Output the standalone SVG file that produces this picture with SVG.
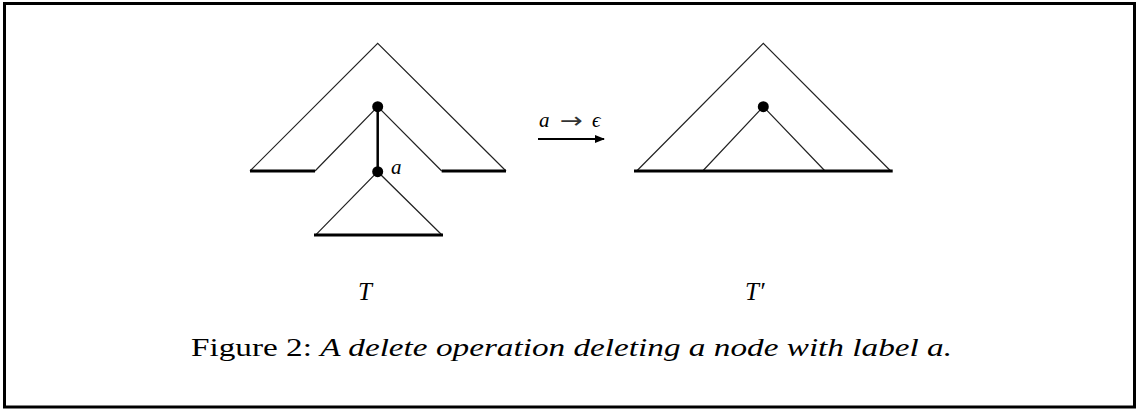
<svg xmlns="http://www.w3.org/2000/svg" width="1137" height="410" viewBox="0 0 1137 410">
<defs>
<style>
.thin{stroke:#222;stroke-width:1.2;fill:none}
.thick{stroke:#000;stroke-width:3;fill:none}
.dot{fill:#000}
.math{font-family:"Liberation Serif",serif;font-style:italic;fill:#000}
.cap{font-family:"Liberation Serif",serif;fill:#000;font-size:25px}
</style>
<marker id="ah" viewBox="0 0 10 10" refX="9" refY="5" markerWidth="5" markerHeight="5" orient="auto" markerUnits="strokeWidth">
<path d="M0,1 L10,5 L0,9 z" fill="#000"/>
</marker>
</defs>
<rect x="4.5" y="3.5" width="1130" height="403.5" fill="#fff" stroke="#000" stroke-width="3"/>
<g id="treeT">
<path class="thin" d="M250,171 L377.7,43.3 L506,171"/>
<path class="thin" d="M315,171 L377.7,106.7 L441.7,171"/>
<line class="thick" x1="250" y1="171" x2="315" y2="171"/>
<line class="thick" x1="441.7" y1="171" x2="506" y2="171"/>
<line x1="377.7" y1="106.7" x2="377.7" y2="171.7" stroke="#000" stroke-width="2.5"/>
<path class="thin" d="M316,234.7 L377.7,171.7 L441.7,234.7"/>
<line class="thick" x1="314" y1="235" x2="443" y2="235"/>
<circle class="dot" cx="377.7" cy="106.7" r="5.5"/>
<circle class="dot" cx="377.7" cy="171.7" r="5.5"/>
<text class="math" x="391" y="174" font-size="21">a</text>
<text class="math" x="358" y="300" font-size="25">T</text>
</g>
<g id="treeTprime">
<path class="thin" d="M636.7,171 L763.3,43.3 L890.7,171"/>
<path class="thin" d="M702.7,171 L763.3,106.7 L825,171"/>
<line class="thick" x1="634" y1="171" x2="892.7" y2="171"/>
<circle class="dot" cx="763.3" cy="106.7" r="5.5"/>
<text class="math" x="745" y="300" font-size="25">T′</text>
</g>
<g id="connectors">
<line x1="538" y1="139" x2="604" y2="139" stroke="#000" stroke-width="2" marker-end="url(#ah)"/>
<text class="math" x="539" y="127" font-size="21">a</text>
<text x="560" y="128" font-size="22" font-family="DejaVu Sans,sans-serif" fill="#333" textLength="23" lengthAdjust="spacingAndGlyphs">→</text>
<text class="math" x="592" y="127" font-size="21">ϵ</text>
</g>
<text class="cap" x="191" y="356" textLength="761" lengthAdjust="spacingAndGlyphs">Figure 2: <tspan font-style="italic">A delete operation deleting a node with label a.</tspan></text>
</svg>
